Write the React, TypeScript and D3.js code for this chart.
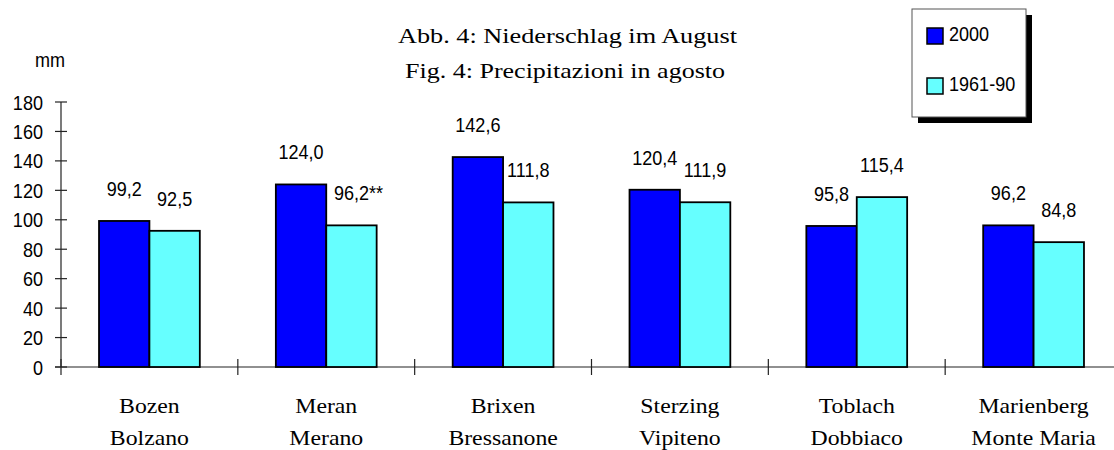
import React, { useEffect, useRef } from 'react';
import * as d3 from 'd3';

const categoriesDe = ['Bozen', 'Meran', 'Brixen', 'Sterzing', 'Toblach', 'Marienberg'];
const categoriesIt = ['Bolzano', 'Merano', 'Bressanone', 'Vipiteno', 'Dobbiaco', 'Monte Maria'];
const seriesNames = ['2000', '1961-90'];
const values2000 = [99.2, 124.0, 142.6, 120.4, 95.8, 96.2];
const values6190 = [92.5, 96.2, 111.8, 111.9, 115.4, 84.8];
const notes6190 = ['', '**', '', '', '', ''];
const yTicks = [0, 20, 40, 60, 80, 100, 120, 140, 160, 180];
const titleLines = ['Abb. 4: Niederschlag im August', 'Fig. 4: Precipitazioni in agosto'];

const W = 1114;
const H = 450;
const SANS = '"Liberation Sans", Arial, sans-serif';
const SERIF = '"Liberation Serif", "Times New Roman", serif';
const colors = ['#0000ff', '#66ffff'];

const fmt = (v: number) => v.toFixed(1).replace('.', ',');

export default function App() {
  const svgRef = useRef<SVGSVGElement>(null);

  useEffect(() => {
    if (!svgRef.current) return;
    const svg = d3.select(svgRef.current);
    svg.selectAll('*').remove();

    const left = 61;
    const right = 1122;
    const y = d3.scaleLinear().domain([0, 180]).range([367, 102]);
    const x0 = d3.scaleBand<string>()
      .domain(categoriesDe)
      .range([left, right])
      .paddingInner(0.43)
      .paddingOuter(0.215);
    const x1 = d3.scaleBand<string>()
      .domain(seriesNames)
      .range([0, x0.bandwidth()]);

    // sans text, slightly narrow like the original
    const sans = (g: any, tx: number, ty: number, txt: string, anchor = 'middle') =>
      g.append('text')
        .attr('transform', `translate(${tx},${ty}) scale(0.86,1)`)
        .attr('text-anchor', anchor)
        .attr('font-family', SANS)
        .attr('font-size', 21)
        .attr('fill', '#000')
        .text(txt);

    // title
    titleLines.forEach((t, i) => {
      svg.append('text')
        .attr('x', i === 0 ? 398 : 405)
        .attr('y', i === 0 ? 43 : 78)
        .attr('font-family', SERIF)
        .attr('font-size', 22)
        .attr('textLength', i === 0 ? 339 : 320)
        .attr('lengthAdjust', 'spacingAndGlyphs')
        .text(t);
    });

    sans(svg, 35, 67, 'mm', 'start');

    // axes
    const axisColor = '#222';
    svg.append('line')
      .attr('x1', left).attr('x2', left)
      .attr('y1', y(180)).attr('y2', y(0))
      .attr('stroke', axisColor).attr('stroke-width', 1.2);
    svg.append('line')
      .attr('x1', 55).attr('x2', W)
      .attr('y1', y(0)).attr('y2', y(0))
      .attr('stroke', axisColor).attr('stroke-width', 1.2);

    yTicks.forEach(t => {
      svg.append('line')
        .attr('x1', 55).attr('x2', 67)
        .attr('y1', y(t)).attr('y2', y(t))
        .attr('stroke', axisColor).attr('stroke-width', 1.2);
      sans(svg, 43, y(t) + 7.5, String(t), 'end');
    });

    const step = x0.step();
    d3.range(categoriesDe.length + 1).forEach(i => {
      const xx = left + i * step;
      svg.append('line')
        .attr('x1', xx).attr('x2', xx)
        .attr('y1', y(0) - 8).attr('y2', y(0) + 8)
        .attr('stroke', axisColor).attr('stroke-width', 1.2);
    });

    // bars
    const seriesValues = [values2000, values6190];
    const seriesNotes = [categoriesDe.map(() => ''), notes6190];
    categoriesDe.forEach((c, ci) => {
      seriesNames.forEach((s, si) => {
        const v = seriesValues[si][ci];
        const bx = (x0(c) as number) + (x1(s) as number);
        const bw = x1.bandwidth();
        svg.append('rect')
          .attr('x', bx).attr('y', y(v))
          .attr('width', bw).attr('height', y(0) - y(v))
          .attr('fill', colors[si])
          .attr('stroke', '#000')
          .attr('stroke-width', 1.8);
        const lbl = sans(svg, bx + bw / 2, y(v) - 25, fmt(v));
        const note = seriesNotes[si][ci];
        if (note) {
          const half = ((lbl.node() as SVGTextElement).getComputedTextLength() * 0.86) / 2;
          sans(svg, bx + bw / 2 + half, y(v) - 25, note, 'start');
        }
      });

      const cx = (x0(c) as number) + x0.bandwidth() / 2;
      [categoriesDe[ci], categoriesIt[ci]].forEach((t, li) => {
        svg.append('text')
          .attr('transform', `translate(${cx},${li === 0 ? 413 : 445}) scale(1.08,1)`)
          .attr('text-anchor', 'middle')
          .attr('font-family', SERIF)
          .attr('font-size', 22)
          .text(t);
      });
    });

    // legend with drop shadow
    const lg = svg.append('g');
    lg.append('rect')
      .attr('x', 918).attr('y', 15).attr('width', 114).attr('height', 108)
      .attr('fill', '#000');
    lg.append('rect')
      .attr('x', 912).attr('y', 9).attr('width', 114).attr('height', 108)
      .attr('fill', '#fff').attr('stroke', '#555').attr('stroke-width', 1);
    seriesNames.forEach((s, i) => {
      const yy = i === 0 ? 28 : 78;
      lg.append('rect')
        .attr('x', 927).attr('y', yy).attr('width', 16).attr('height', 16)
        .attr('fill', colors[i]).attr('stroke', '#000').attr('stroke-width', 1.5);
      sans(lg, 949, yy + 13, s, 'start');
    });
  }, []);

  return (
    <svg
      ref={svgRef}
      width={W}
      height={H}
      style={{ position: 'absolute', left: 0, top: 0, display: 'block', background: '#fff' }}
    />
  );
}
